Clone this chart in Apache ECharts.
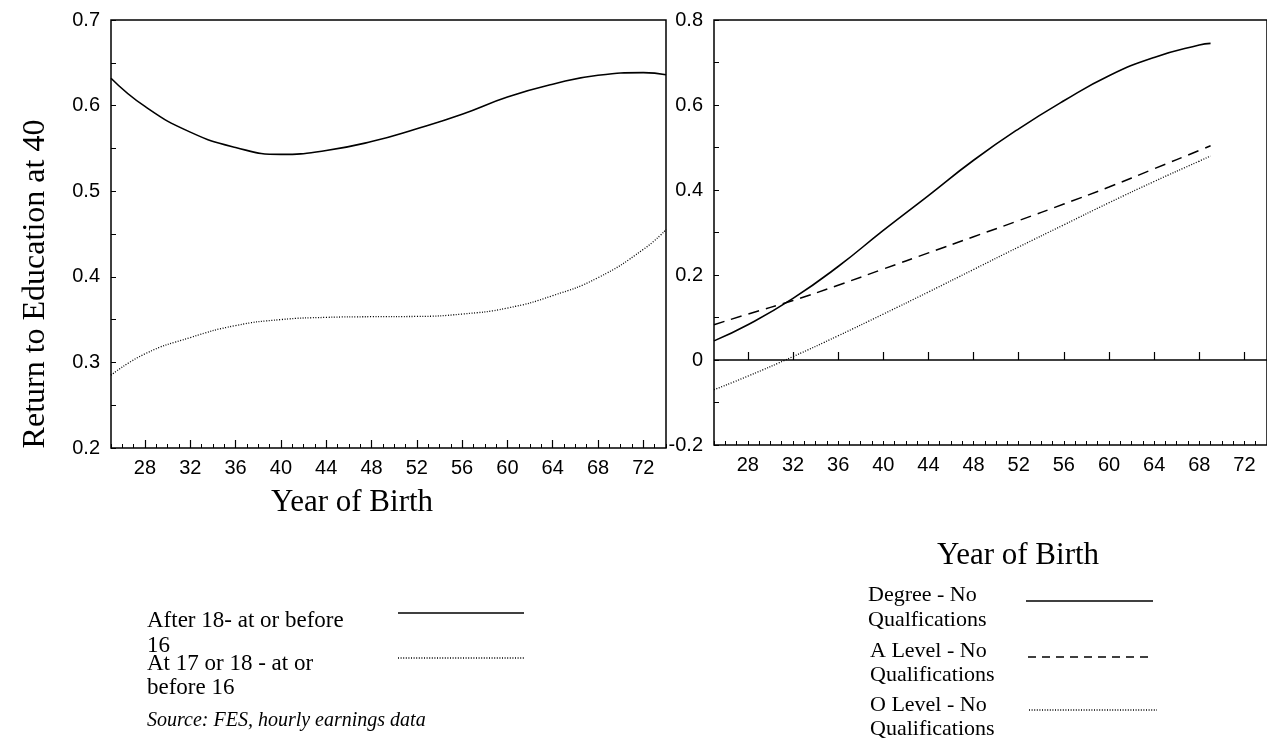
<!DOCTYPE html>
<html>
<head>
<meta charset="utf-8">
<script src="https://cdn.jsdelivr.net/npm/echarts@6/dist/echarts.min.js"></script>
<style>
html,body{margin:0;padding:0;background:#fff;}
#c{width:1267px;height:740px;}
</style>
</head>
<body>
<div id="c"></div>
<script>
// ---- data ----
const leftYears = [25, 28, 32, 36, 40, 44, 48, 52, 56, 60, 64, 68, 72, 74];
const after18 = [0.632, 0.599, 0.569, 0.551, 0.543, 0.5476, 0.558, 0.573, 0.590, 0.610, 0.625, 0.6355, 0.6385, 0.636];
const at17or18 = [0.285, 0.310, 0.329, 0.343, 0.350, 0.3526, 0.3534, 0.3537, 0.3565, 0.3635, 0.378, 0.399, 0.432, 0.455];

const rightYears = [25, 28, 32, 36, 40, 44, 48, 52, 56, 60, 64, 68, 69];
const degree = [0.045, 0.083, 0.145, 0.220, 0.305, 0.387, 0.470, 0.544, 0.610, 0.669, 0.712, 0.741, 0.745];
const aLevel = [0.083, 0.108, 0.140, 0.176, 0.214, 0.252, 0.290, 0.328, 0.367, 0.407, 0.450, 0.493, 0.504];
const oLevel = [-0.070, -0.038, 0.008, 0.057, 0.108, 0.160, 0.213, 0.266, 0.318, 0.370, 0.420, 0.468, 0.480];

const xTickLabels = [28, 32, 36, 40, 44, 48, 52, 56, 60, 64, 68, 72];

const legendLeft = ['After 18- at or before\n16', 'At 17 or 18 - at or\nbefore 16'];
const legendRight = ['Degree - No\nQualfications', 'A Level - No\nQualifications', 'O Level - No\nQualifications'];
const sourceText = 'Source: FES, hourly earnings data';
const xTitle = 'Year of Birth';
const yTitle = 'Return to Education at 40';

// ---- chart ----
const SANS = '"Liberation Sans", Arial, sans-serif';
const SERIF = '"Liberation Serif", "Times New Roman", serif';
const BLACK = '#000';
const dotted = [1, 1.6];
const dashed = [11, 7];
const TICKFONT = 20;

function pairs(xs, ys) { return xs.map((x, i) => [x, ys[i]]); }

function majorX(gi) {
  return {
    type: 'value', gridIndex: gi, min: 25, max: 74, position: 'bottom',
    axisLine: {show: false},
    splitLine: {show: false},
    axisTick: {show: true, inside: true, length: 8, customValues: xTickLabels, lineStyle: {color: BLACK, width: 1.2}},
    axisLabel: {show: true, customValues: xTickLabels, margin: 10, color: BLACK, fontSize: TICKFONT, fontFamily: SANS}
  };
}
function minorX(gi) {
  return {
    type: 'value', gridIndex: gi, min: 25, max: 74, interval: 1, position: 'bottom',
    axisLine: {show: false},
    splitLine: {show: false},
    axisTick: {show: true, inside: true, length: 4, lineStyle: {color: BLACK, width: 1}},
    axisLabel: {show: false}
  };
}

const option = {
  backgroundColor: '#fff',
  animation: false,
  grid: [
    {left: 111, top: 20, width: 555, height: 428, show: true, borderColor: BLACK, borderWidth: 1.5, containLabel: false},
    {left: 714, top: 20, width: 555, height: 425, show: true, borderColor: BLACK, borderWidth: 1.5, containLabel: false}
  ],
  xAxis: [majorX(0), minorX(0), majorX(1), minorX(1)],
  yAxis: [
    {
      type: 'value', gridIndex: 0, min: 0.2, max: 0.7, interval: 0.05,
      axisLine: {show: false}, splitLine: {show: false},
      axisTick: {show: true, inside: true, length: 5, lineStyle: {color: BLACK, width: 1}},
      axisLabel: {
        margin: 11, color: BLACK, fontSize: TICKFONT, fontFamily: SANS,
        formatter: v => { const r = Math.round(v * 20); return r % 2 === 0 ? (r / 20).toFixed(1) : ''; }
      }
    },
    {
      type: 'value', gridIndex: 1, min: -0.2, max: 0.8, interval: 0.1,
      axisLine: {show: false}, splitLine: {show: false},
      axisTick: {show: true, inside: true, length: 5, lineStyle: {color: BLACK, width: 1}},
      axisLabel: {
        margin: 11, color: BLACK, fontSize: TICKFONT, fontFamily: SANS,
        formatter: v => { const r = Math.round(v * 10); if (r % 2 !== 0) return ''; return r === 0 ? '0' : (r / 10).toFixed(1); }
      }
    }
  ],
  series: [
    {type: 'line', xAxisIndex: 0, yAxisIndex: 0, data: pairs(leftYears, after18), smooth: 0.5, showSymbol: false,
     lineStyle: {color: BLACK, width: 1.6, type: 'solid'}},
    {type: 'line', xAxisIndex: 0, yAxisIndex: 0, data: pairs(leftYears, at17or18), smooth: 0.5, showSymbol: false,
     lineStyle: {color: BLACK, width: 1.3, type: dotted}},
    {type: 'line', xAxisIndex: 2, yAxisIndex: 1, data: pairs(rightYears, degree), smooth: 0.5, showSymbol: false,
     lineStyle: {color: BLACK, width: 1.6, type: 'solid'},
     markLine: {silent: true, symbol: 'none', label: {show: false}, lineStyle: {color: BLACK, width: 1.5, type: 'solid'}, data: [{yAxis: 0}]}},
    {type: 'line', xAxisIndex: 2, yAxisIndex: 1, data: pairs(rightYears, aLevel), smooth: 0.5, showSymbol: false,
     lineStyle: {color: BLACK, width: 1.5, type: dashed}},
    {type: 'line', xAxisIndex: 2, yAxisIndex: 1, data: pairs(rightYears, oLevel), smooth: 0.5, showSymbol: false,
     lineStyle: {color: BLACK, width: 1.3, type: dotted}}
  ],
  graphic: [
    {type: 'text', x: 36, y: 284, rotation: Math.PI / 2,
     style: {text: yTitle, font: '32px ' + SERIF, fill: BLACK, textAlign: 'center', textVerticalAlign: 'middle'}},
    {type: 'text', x: 352, y: 503,
     style: {text: xTitle, font: '31px ' + SERIF, fill: BLACK, textAlign: 'center', textVerticalAlign: 'middle'}},
    {type: 'text', x: 1018, y: 556,
     style: {text: xTitle, font: '31px ' + SERIF, fill: BLACK, textAlign: 'center', textVerticalAlign: 'middle'}},

    {type: 'text', x: 147, y: 608, style: {text: legendLeft[0], font: '23px ' + SERIF, lineHeight: 25, fill: BLACK, textAlign: 'left', textVerticalAlign: 'top'}},
    {type: 'text', x: 147, y: 652, style: {text: legendLeft[1], font: '23px ' + SERIF, lineHeight: 24, fill: BLACK, textAlign: 'left', textVerticalAlign: 'top'}},
    {type: 'text', x: 147, y: 721, style: {text: sourceText, font: 'italic 20px ' + SERIF, fill: BLACK, textAlign: 'left', textVerticalAlign: 'middle'}},
    {type: 'line', shape: {x1: 398, y1: 613, x2: 524, y2: 613}, style: {stroke: BLACK, lineWidth: 1.6}},
    {type: 'line', shape: {x1: 398, y1: 658, x2: 524, y2: 658}, style: {stroke: BLACK, lineWidth: 1.3, lineDash: dotted}},

    {type: 'text', x: 868, y: 583, style: {text: legendRight[0], font: '22px ' + SERIF, lineHeight: 25, fill: BLACK, textAlign: 'left', textVerticalAlign: 'top'}},
    {type: 'text', x: 870, y: 639, style: {text: legendRight[1], font: '22px ' + SERIF, lineHeight: 24, fill: BLACK, textAlign: 'left', textVerticalAlign: 'top'}},
    {type: 'text', x: 870, y: 693, style: {text: legendRight[2], font: '22px ' + SERIF, lineHeight: 24, fill: BLACK, textAlign: 'left', textVerticalAlign: 'top'}},
    {type: 'line', shape: {x1: 1026, y1: 601, x2: 1153, y2: 601}, style: {stroke: BLACK, lineWidth: 1.6}},
    {type: 'line', shape: {x1: 1028, y1: 657, x2: 1153, y2: 657}, style: {stroke: BLACK, lineWidth: 1.4, lineDash: [8, 6]}},
    {type: 'line', shape: {x1: 1029, y1: 710, x2: 1157, y2: 710}, style: {stroke: BLACK, lineWidth: 1.3, lineDash: dotted}}
  ]
};

const chart = echarts.init(document.getElementById('c'), null, {renderer: 'canvas'});
chart.setOption(option);
</script>
</body>
</html>
